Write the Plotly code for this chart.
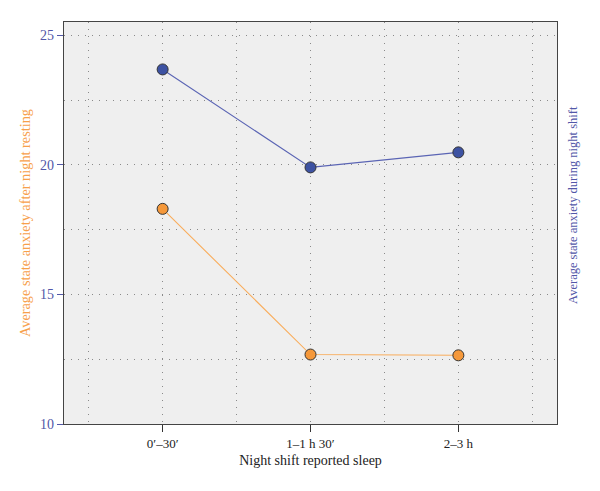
import plotly.graph_objects as go

categories = ["0\u2032\u201330\u2032", "1\u20131 h 30\u2032", "2\u20133 h"]
after_resting = [18.3, 12.68, 12.65]
during_shift = [23.68, 19.9, 20.48]
y_ticks = [10, 15, 20, 25]

x_pos = list(range(len(categories)))
FONT = "Liberation Serif"
BLUE = "#5257a8"
ORANGE = "#f7a04a"

fig = go.Figure()
fig.add_trace(go.Scatter(
    x=x_pos, y=after_resting, mode="lines+markers", yaxis="y",
    line=dict(color="#f9ad5c", width=1.1),
    marker=dict(size=11, color="#f5983a", line=dict(color="#333333", width=1)),
    showlegend=False, hoverinfo="skip"))
fig.add_trace(go.Scatter(
    x=x_pos, y=during_shift, mode="lines+markers", yaxis="y2",
    line=dict(color="#5a64b4", width=1.1),
    marker=dict(size=11, color="#3d52a2", line=dict(color="#333333", width=1)),
    showlegend=False, hoverinfo="skip"))

DOT = "1px,6px"
GCOL = "#8a8a8a"
grid = dict(showgrid=True, gridcolor=GCOL, griddash=DOT, gridwidth=1)

fig.update_layout(
    width=600, height=491,
    margin=dict(l=64, r=43, t=22, b=67),
    paper_bgcolor="white", plot_bgcolor="#efefef",
    font=dict(family=FONT, size=13, color="#222222"),
    xaxis=dict(
        range=[-0.667, 2.667], tickvals=x_pos, ticktext=categories,
        ticks="outside", ticklen=7, tickcolor="#333333",
        showline=True, linecolor="#444444", linewidth=1.3, mirror=True,
        zeroline=False, **grid,
        minor=dict(dtick=0.5, tick0=0, showgrid=True, gridcolor=GCOL, griddash=DOT, ticks=""),
        title=dict(text="Night shift reported sleep", font=dict(size=14, color="#222222"), standoff=5),
        tickfont=dict(size=13, color="#222222"),
    ),
    yaxis=dict(
        range=[10, 25.51], tickvals=y_ticks,
        ticks="outside", ticklen=6, tickcolor=BLUE,
        showline=True, linecolor="#444444", linewidth=1.3, mirror=True,
        zeroline=False, **grid,
        minor=dict(dtick=2.5, tick0=10, showgrid=True, gridcolor=GCOL, griddash=DOT, ticks=""),
        tickfont=dict(size=14, color=BLUE),
        title=dict(text="Average state anxiety after night resting", font=dict(size=14.3, color=ORANGE), standoff=6),
    ),
    yaxis2=dict(
        range=[10, 25.51], overlaying="y", side="right",
        showticklabels=False, ticks="", showgrid=False, zeroline=False,
    ),
    annotations=[dict(
        text="Average state anxiety during night shift", textangle=-90,
        xref="paper", yref="paper", x=1.0, y=0.545, xshift=16,
        xanchor="center", yanchor="middle", showarrow=False,
        font=dict(size=12.5, color=BLUE, family=FONT))],
)

fig.write_html("out.html")
